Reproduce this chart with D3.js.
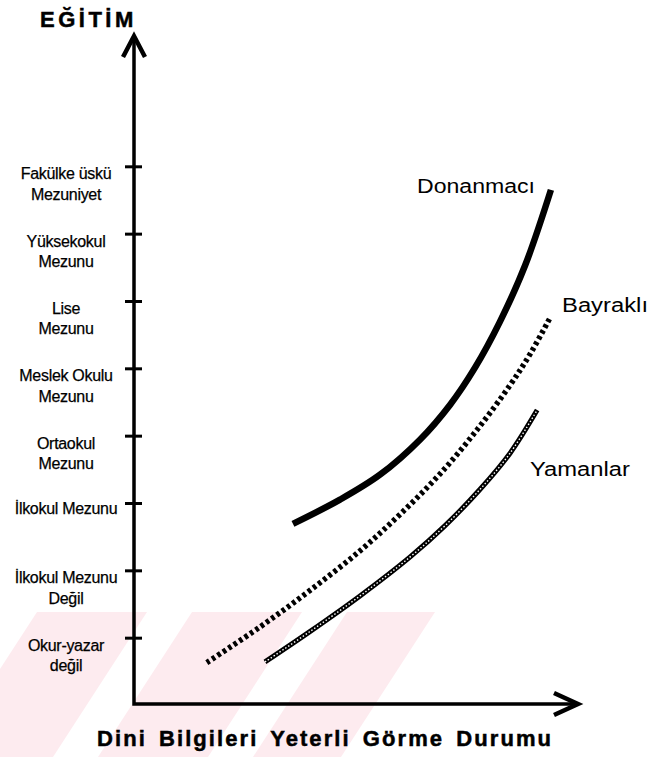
<!DOCTYPE html>
<html lang="tr">
<head>
<meta charset="UTF-8">
<title>Eğitim ve Dini Bilgileri Yeterli Görme Durumu</title>
<script src="https://cdn.jsdelivr.net/npm/d3@7"></script>
<style>
	body { margin: 0; background: #fff; }
	svg { display: block; }
	.lvl { font-family: "Liberation Sans Narrow", "Arial Narrow", "Liberation Sans", sans-serif; font-size: 16px; fill: #000; stroke: #000; stroke-width: 0.25px; letter-spacing: -0.3px; }
	.ser { font-family: "Liberation Sans", Arial, sans-serif; font-size: 20px; fill: #000; }
	.ttl { font-family: "Liberation Sans", Arial, sans-serif; font-weight: bold; fill: #000; stroke: #000; stroke-width: 0.5px; }
</style>
</head>
<body>
<script>
// education levels, bottom to top (each entry = label lines)
const levels = [
	["Okur-yazar", "değil"],
	["İlkokul Mezunu", "Değil"],
	["İlkokul Mezunu"],
	["Ortaokul", "Mezunu"],
	["Meslek Okulu", "Mezunu"],
	["Lise", "Mezunu"],
	["Yüksekokul", "Mezunu"],
	["Fakülke üskü", "Mezuniyet"]
];

const seriesNames = ["Donanmacı", "Bayraklı", "Yamanlar"];

// x = dini bilgi (0-10, no scale printed), y = education level index
const donanmaciX = [3.58, 4.64, 5.54, 6.44, 7.12, 7.68, 8.24, 8.81, 9.39];
const donanmaciY = [1.69, 2.05, 2.42, 2.94, 3.46, 4.01, 4.69, 5.53, 6.65];

const bayrakliX = [1.64, 2.84, 3.96, 5.09, 5.99, 6.89, 7.73, 8.47, 8.92, 9.37];
const bayrakliY = [-0.37, 0.16, 0.70, 1.29, 1.83, 2.43, 3.09, 3.75, 4.21, 4.75];

const yamanlarX = [2.95, 3.96, 5.09, 6.22, 7.00, 7.79, 8.47, 9.08];
const yamanlarY = [-0.36, 0.09, 0.62, 1.20, 1.66, 2.20, 2.74, 3.38];

const W = 667, H = 757;

const svg = d3.select("body").append("svg")
	.attr("width", W)
	.attr("height", H);

const x = d3.scaleLinear().domain([0, 10]).range([134, 578]);
const y = d3.scaleLinear().domain([-0.985, 8.95]).range([704, 35]);

// pale watermark stripes in the lower left
const defs = svg.append("defs");
defs.append("clipPath").attr("id", "wm")
	.append("path")
	.attr("d", "M0,612 L435,612 L341,757 L0,757 Z");

const wm = svg.append("g").attr("clip-path", "url(#wm)");
d3.range(-2, 4).forEach(function (k) {
	const x0 = 37 + k * 155; // left edge of pink band at y=612
	wm.append("path")
		.attr("d", `M${x0},612 L${x0 + 110},612 L${x0 + 110 - 94},757 L${x0 - 94},757 Z`)
		.attr("fill", "#fdebef");
});

// axes
const ax = svg.append("g").attr("fill", "none").attr("stroke", "#000");
ax.append("path")
	.attr("d", `M${x(0)},${y(8.9)} L${x(0)},${y(-0.985)} L${x(10)},${y(-0.985)}`)
	.attr("stroke-width", 3.5);
ax.append("path")
	.attr("d", `M${x(0) - 11},${y(8.95) + 22} L${x(0)},${y(8.95) + 1} L${x(0) + 11},${y(8.95) + 22}`)
	.attr("stroke-width", 4.5)
	.attr("stroke-linejoin", "miter");
ax.append("path")
	.attr("d", `M${x(10) - 24},${y(-0.985) - 11} L${x(10)},${y(-0.985)} L${x(10) - 24},${y(-0.985) + 11}`)
	.attr("stroke-width", 4.5)
	.attr("stroke-linejoin", "miter");

const yAxis = d3.axisLeft(y)
	.tickValues(d3.range(levels.length))
	.tickSize(17)
	.tickFormat("");

const yg = svg.append("g")
	.attr("transform", `translate(${x(0) + 8},0)`)
	.call(yAxis);
yg.select(".domain").remove();
yg.selectAll(".tick line").attr("stroke", "#000").attr("stroke-width", 3);

// level labels
const lab = svg.append("g");
levels.forEach(function (lines, i) {
	const t = lab.append("text")
		.attr("class", "lvl")
		.attr("text-anchor", "middle");
	const base = lines.length === 1 ? y(i) + 11 : y(i) + 13;
	lines.forEach(function (s, j) {
		t.append("tspan")
			.attr("x", 66)
			.attr("y", base + j * 20.5)
			.text(s);
	});
});

// curves
const line = d3.line()
	.x(d => x(d[0]))
	.y(d => y(d[1]))
	.curve(d3.curveCatmullRom);

const zip = (a, b) => a.map((v, i) => [v, b[i]]);

svg.append("path")
	.attr("d", line(zip(donanmaciX, donanmaciY)))
	.attr("fill", "none")
	.attr("stroke", "#000")
	.attr("stroke-width", 6.5);

svg.append("path")
	.attr("d", line(zip(bayrakliX, bayrakliY)))
	.attr("fill", "none")
	.attr("stroke", "#000")
	.attr("stroke-width", 5.5)
	.attr("stroke-dasharray", "3.5 3");

const yam = line(zip(yamanlarX, yamanlarY));
svg.append("path")
	.attr("d", yam)
	.attr("fill", "none")
	.attr("stroke", "#000")
	.attr("stroke-width", 5);
svg.append("path")
	.attr("d", yam)
	.attr("fill", "none")
	.attr("stroke", "#fff")
	.attr("stroke-width", 1.4)
	.attr("stroke-dasharray", "1.5 2");

// series labels
const serPos = [[417, 193, 118], [562, 312, 86], [530, 476, 100]];
seriesNames.forEach(function (s, i) {
	svg.append("text")
		.attr("class", "ser")
		.attr("x", serPos[i][0])
		.attr("y", serPos[i][1])
		.attr("textLength", serPos[i][2])
		.attr("lengthAdjust", "spacingAndGlyphs")
		.text(s);
});

// titles
svg.append("text")
	.attr("class", "ttl")
	.attr("x", 40)
	.attr("y", 27)
	.attr("font-size", 22)
	.attr("letter-spacing", 3.5)
	.text("EĞİTİM");

svg.append("text")
	.attr("class", "ttl")
	.attr("x", 97)
	.attr("y", 746)
	.attr("font-size", 22)
	.attr("letter-spacing", 2)
	.attr("word-spacing", 4)
	.attr("textLength", 456)
	.attr("lengthAdjust", "spacing")
	.text("Dini Bilgileri Yeterli Görme Durumu");
</script>
</body>
</html>
